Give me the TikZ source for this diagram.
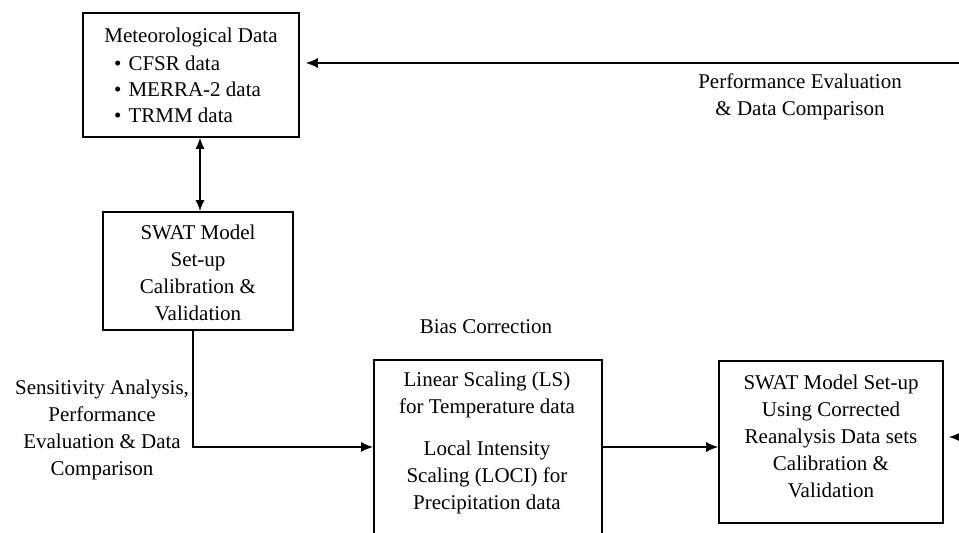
\documentclass[tikz,border=0pt]{standalone}
\usepackage{fontspec}
\setmainfont{Liberation Serif}
\usetikzlibrary{arrows.meta}
\begin{document}
\begin{tikzpicture}[x=1pt,y=-1pt,
  box/.style={draw, line width=1.8pt, inner sep=0pt},
  txt/.style={align=center, font=\fontsize{21}{27}\selectfont, inner sep=0pt},
  itm/.style={anchor=base west, font=\fontsize{21}{27}\selectfont, inner sep=0pt},
  arr/.style={line width=1.2pt, -{Latex[length=12pt,width=10pt]}},
  dbl/.style={line width=1.2pt, {Latex[length=11pt,width=9pt]}-{Latex[length=11pt,width=9pt]}},
]
\useasboundingbox (0,0) rectangle (959,533);
\clip (0,0) rectangle (959,533);

% boxes
\node[box, minimum width=216pt, minimum height=124pt] (met) at (191,75) {};
\node[txt, anchor=base] (metT) at (191,42) {Meteorological Data};
\node[itm] (cfsr) at (114,70) {\textbullet\hspace{7pt}CFSR data};
\node[itm] (merra) at (114,96) {\textbullet\hspace{7pt}MERRA-2 data};
\node[itm] (trmm) at (114,122) {\textbullet\hspace{7pt}TRMM data};

\node[box, minimum width=190pt, minimum height=118pt] (swat1) at (198,271) {};
\node[txt] (swat1T) at (198,273) {SWAT Model\\Set-up\\Calibration \&\\Validation};

\node[box, anchor=north west, minimum width=228pt, minimum height=220pt] (ls) at (373,359) {};
\node[txt] (lsT) at (487,442.5) {Linear Scaling (LS)\\for Temperature data\\[15pt]Local Intensity\\Scaling (LOCI) for\\Precipitation data};

\node[box, minimum width=224pt, minimum height=162pt] (swat2) at (831,442) {};
\node[txt] (swat2T) at (831,436.5) {SWAT Model Set-up\\Using Corrected\\Reanalysis Data sets\\Calibration \&\\Validation};

% labels
\node[txt] (pe) at (800,96.5) {Performance Evaluation\\\& Data Comparison};
\node[txt] (bc) at (486,327) {Bias Correction};
\node[txt] (sa) at (102,429.5) {Sensitivity Analysis,\\Performance\\Evaluation \& Data\\Comparison};

% free ends
\coordinate (r1) at (970,63);
\coordinate (r2) at (970,437);
\coordinate (m) at (0,447);

% connectors
\draw[arr, shorten >=6pt] (r1) -- (met.east |- r1);
\draw[dbl] ([xshift=9pt]met.south) -- ([xshift=2pt]swat1.north);
\draw[arr] ([xshift=-5pt]swat1.south) |- (ls.west |- m);
\draw[arr] (ls.east |- m) -- (swat2.west |- m);
\draw[arr, shorten >=5pt] (r2) -- (swat2.east |- r2);
\end{tikzpicture}
\end{document}
